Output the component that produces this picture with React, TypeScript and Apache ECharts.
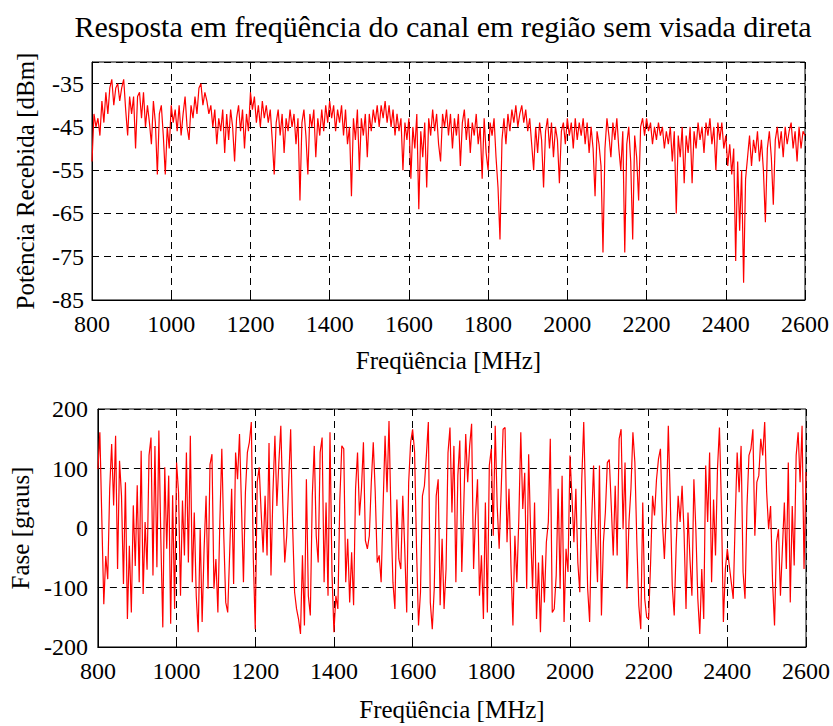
import React, { useEffect, useRef } from "react";
import * as echarts from "echarts";

const TITLE = "Resposta em freqüência do canal em região sem visada direta";
const X_NAME = "Freqüência [MHz]";
const Y1_NAME = "Potência Recebida [dBm]";
const Y2_NAME = "Fase [graus]";

const FREQ_MIN = 800;
const FREQ_MAX = 2600;

// Received power [dBm], 800..2600 MHz (equally spaced samples)
const POWER_DBM = [
  -53, -42, -45, -43, -47, -39, -44, -37, -42, -36,
  -34, -40, -36, -35, -39, -36, -34, -41, -47, -38,
  -42, -38, -50, -38, -37, -43, -37, -45, -40, -44,
  -49, -39, -44, -56, -42, -40, -47, -56, -45, -50,
  -40, -44, -41, -46, -40, -47, -42, -38, -45, -48,
  -40, -43, -38, -42, -36, -35, -40, -37, -39, -42,
  -40, -45, -41, -49, -43, -46, -41, -51, -42, -48,
  -41, -45, -53, -43, -40, -46, -41, -50, -42, -46,
  -37, -41, -38, -44, -40, -45, -39, -43, -40, -44,
  -41, -48, -56, -44, -41, -47, -42, -51, -43, -46,
  -41, -45, -42, -49, -43, -62, -44, -41, -47, -56,
  -42, -45, -41, -52, -43, -47, -41, -46, -40, -44,
  -39, -43, -40, -46, -41, -44, -40, -47, -41, -49,
  -45, -61, -43, -48, -41, -55, -43, -47, -42, -52,
  -42, -46, -41, -44, -40, -45, -40, -43, -39, -44,
  -40, -45, -41, -47, -42, -46, -43, -55, -44, -48,
  -43, -57, -45, -50, -42, -64, -46, -52, -44, -59,
  -43, -47, -41, -46, -42, -49, -53, -42, -45, -41,
  -47, -42, -50, -43, -47, -42, -54, -44, -41, -48,
  -43, -51, -44, -47, -42, -49, -45, -57, -43, -51,
  -55, -44, -47, -43, -52, -59, -71, -48, -43, -49,
  -42, -46, -41, -44, -40, -45, -42, -40, -44, -41,
  -46, -43, -49, -55, -45, -51, -44, -48, -59, -46,
  -43, -50, -44, -52, -45, -48, -58, -46, -44, -49,
  -43, -47, -44, -50, -43, -48, -44, -47, -43, -49,
  -44, -51, -45, -50, -61, -46, -49, -54, -74, -50,
  -43, -47, -52, -44, -48, -43, -50, -55, -46, -74,
  -49, -45, -53, -71, -47, -52, -62, -45, -43, -47,
  -43, -46, -44, -49, -45, -48, -44, -47, -45, -50,
  -46, -49, -45, -53, -46, -65, -47, -52, -45, -58,
  -47, -51, -45, -58, -46, -50, -44, -48, -45, -51,
  -44, -47, -43, -49, -45, -55, -44, -48, -44, -50,
  -47, -54, -49, -56, -50, -76, -53, -69, -55, -81,
  -57, -52, -47, -54, -48, -51, -46, -53, -48, -55,
  -67, -50, -46, -52, -63, -48, -45, -50, -46, -52,
  -45, -49, -46, -44, -50, -46, -53, -45, -50, -46,
  -47,
];

// Phase [degrees], 800..2600 MHz (equally spaced samples)
const PHASE_DEG = [
  99, 161, 15, -128, -47, -86, 66, 141, 38, 155, -69, 113, 54, -94, 77, -153, -30, -142, 38, -64,
  72, -91, 130, -111, 10, -70, 122, 152, -80, 138, -66, 164, -18, -167, 102, -35, 88, -161, 55, -136,
  110, 60, -114, 46, -46, 127, -58, 155, -91, 26, -114, -175, -2, -158, -35, 54, -102, 107, 124, -102,
  -52, -142, 10, 133, -13, -125, -142, -41, 66, -94, 127, 82, 158, 37, -91, 60, 127, 144, 178, -50,
  -170, 77, 102, 26, -41, 54, -46, 143, -80, 60, 155, 37, 110, 172, 43, -58, -13, 77, 166, 4,
  -108, -136, -153, -178, -46, -164, 82, -114, -147, 54, 138, -13, -58, 127, 152, -91, 43, -114, 161, -75,
  -175, -114, -136, 48, 138, 133, -91, -18, -125, -41, -130, 66, 127, 21, 66, 144, -21, -35, -13, 77,
  144, 60, -58, -46, -91, 37, 155, 60, 180, 21, -91, -136, 48, -52, -69, 54, -35, -142, 77, 144,
  166, 129, -35, -164, -108, 54, 71, 122, 178, -125, -170, -102, 54, 82, -130, -18, -136, -69, 127, 169,
  26, 138, -91, 88, 147, -74, 37, 158, 77, 138, 175, -69, 21, 82, -114, -46, -153, 43, -142, 105,
  133, -13, 172, 37, -35, 60, 166, 169, -24, 66, -63, -164, -13, -91, 15, 161, 32, 93, -102, 124,
  -7, -102, 43, -153, -58, -175, -46, -125, -24, 10, 150, -142, -136, -80, 66, -102, 88, -158, -35, -74,
  122, 54, -24, 66, -58, -108, 82, 178, 37, -102, -158, 10, 105, -13, -91, 105, -147, -24, 26, 110,
  115, 37, -46, 71, -46, 150, 166, -2, 110, -102, 10, 66, 161, 110, -24, -130, -170, 43, -119, -150,
  -153, -58, 54, 21, 82, 116, 133, 10, -52, 26, 172, 48, -97, -147, -30, 54, 10, 71, -7, -136,
  26, -52, -114, 82, -2, -119, -178, -69, -153, 105, 10, 127, -91, 48, -46, 99, 169, 37, -158, -69,
  -35, -63, -91, -119, 13, 127, 60, 138, -74, -119, 37, 122, 133, 166, -13, 77, 88, 150, 122, 178,
  60, -2, 37, -91, -164, -24, -2, -114, -35, 43, -69, 110, -125, 37, -63, 122, 161, 77, 172, -69,
  94,
];

const toPairs = (vals: number[]) =>
  vals.map((v, i) => [FREQ_MIN + (i * (FREQ_MAX - FREQ_MIN)) / (vals.length - 1), v]);

const FONT = "Liberation Serif";

export default function App() {
  const ref = useRef<HTMLDivElement>(null);

  useEffect(() => {
    document.body.style.margin = "0";
    const chart = echarts.init(ref.current!, null, { renderer: "svg" });

    const gridLine = {
      show: true,
      lineStyle: { color: "#000", type: [7, 5] as any, width: 1 },
    };
    const tick = { show: true, inside: true, length: 5, lineStyle: { color: "#000" } };
    const xAxisBase = (gridIndex: number, gap: number, margin: number) => ({
      type: "value",
      gridIndex,
      min: FREQ_MIN,
      max: FREQ_MAX,
      interval: 200,
      name: X_NAME,
      nameLocation: "middle",
      nameGap: gap,
      nameTextStyle: { color: "#000", fontSize: 25, fontFamily: FONT },
      axisLine: { show: true, onZero: false, lineStyle: { color: "#000", width: 1 } },
      axisTick: tick,
      axisLabel: {
        color: "#000",
        fontSize: 24,
        fontFamily: FONT,
        margin,
        formatter: (v: number) => String(v),
      },
      splitLine: gridLine,
    });

    chart.setOption({
      animation: false,
      backgroundColor: "#fff",
      title: {
        text: TITLE,
        left: 438,
        textAlign: "center",
        top: 6,
        textStyle: { color: "#000", fontSize: 30, fontWeight: "normal", fontFamily: FONT },
      },
      grid: [
        { left: 92, right: 28, top: 62, height: 238, show: true, borderColor: "#000", borderWidth: 1, backgroundColor: "#fff" },
        { left: 93, right: 27, top: 409, height: 238, show: true, borderColor: "#000", borderWidth: 1, backgroundColor: "#fff" },
      ],
      xAxis: [xAxisBase(0, 48, 12), xAxisBase(1, 50, 12)],
      yAxis: [
        {
          type: "value",
          gridIndex: 0,
          min: -85,
          max: -30,
          interval: 10,
          name: Y1_NAME,
          nameLocation: "middle",
          nameGap: 54,
          nameTextStyle: { color: "#000", fontSize: 25, fontFamily: FONT },
          axisLine: { show: true, onZero: false, lineStyle: { color: "#000" } },
          axisTick: tick,
          axisLabel: {
            color: "#000",
            fontSize: 24,
            fontFamily: FONT,
            margin: 8,
            formatter: (v: number) => (v === -30 ? "" : String(v)),
          },
          splitLine: gridLine,
        },
        {
          type: "value",
          gridIndex: 1,
          min: -200,
          max: 200,
          interval: 100,
          name: Y2_NAME,
          nameLocation: "middle",
          nameGap: 56,
          nameTextStyle: { color: "#000", fontSize: 25, fontFamily: FONT },
          axisLine: { show: true, onZero: false, lineStyle: { color: "#000" } },
          axisTick: tick,
          axisLabel: {
            color: "#000",
            fontSize: 24,
            fontFamily: FONT,
            margin: 10,
            formatter: (v: number) => String(v),
          },
          splitLine: gridLine,
        },
      ],
      series: [
        {
          type: "line",
          xAxisIndex: 0,
          yAxisIndex: 0,
          data: toPairs(POWER_DBM),
          showSymbol: false,
          lineStyle: { color: "#ff0000", width: 1.2 },
          z: 3,
        },
        {
          type: "line",
          xAxisIndex: 1,
          yAxisIndex: 1,
          data: toPairs(PHASE_DEG),
          showSymbol: false,
          lineStyle: { color: "#ff0000", width: 1.2 },
          z: 3,
        },
      ],
    });

    return () => chart.dispose();
  }, []);

  return <div ref={ref} style={{ width: 833, height: 726 }} />;
}
